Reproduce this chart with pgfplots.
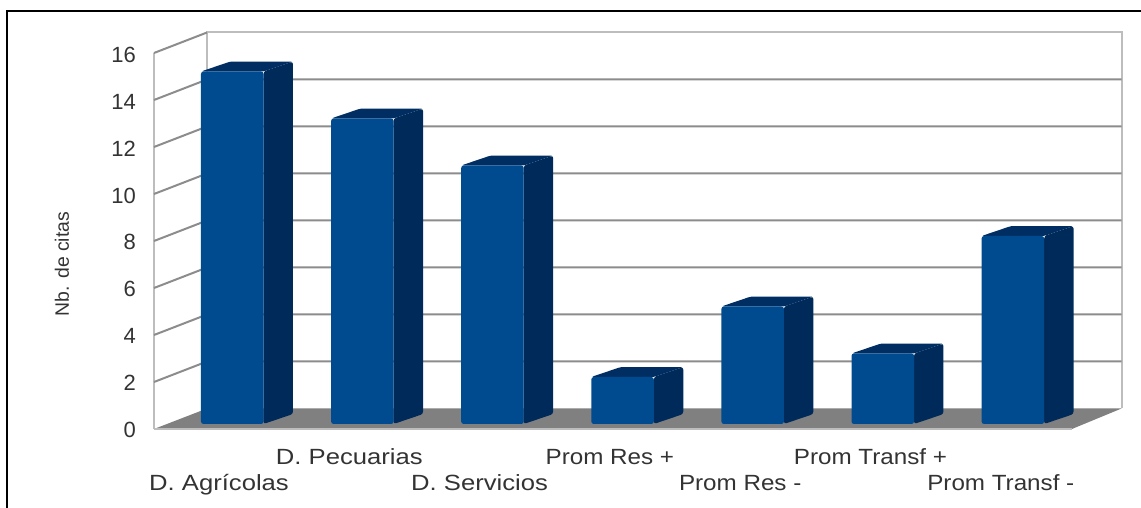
\documentclass[border=0pt]{standalone}
\usepackage{pgfplots}
\pgfplotsset{compat=1.18}
\usepackage{fontspec}
\setmainfont{Liberation Sans}
\newfontfamily\widefont[FakeStretch=1.165]{Liberation Sans}
\newfontfamily\midfont[FakeStretch=1.10]{Liberation Sans}
\definecolor{barfront}{HTML}{004A8F}
\definecolor{barside}{HTML}{002A59}
\definecolor{bartop}{HTML}{002E62}
\definecolor{floorgray}{HTML}{808080}
\definecolor{gridgray}{HTML}{8C8C8C}
\definecolor{wallgray}{HTML}{BDBDBD}
\definecolor{labelgray}{HTML}{333333}

% One 3D bar: category index, value. Depth runs 0.244 to 0.73 on the floor.
\newcommand{\Bar}[2]{%
  \pgfmathsetmacro{\xl}{#1*0.9985-0.2375}%
  \pgfmathsetmacro{\xr}{#1*0.9985+0.2425}%
  \pgfmathsetmacro{\xbl}{#1*0.9985-0.2095}%
  \pgfmathsetmacro{\xbr}{#1*0.9985+0.2705}%
  \addplot3[fill=bartop,draw=none,rounded corners=2.5pt] coordinates {(\xl,0.244,#2)(\xbl,0.73,#2)(\xbr,0.73,#2)(\xr,0.244,#2)} -- cycle;
  \addplot3[fill=barside,draw=none,rounded corners=2.5pt] coordinates {(\xr,0.244,0)(\xbr,0.73,0)(\xbr,0.73,#2)(\xr,0.244,#2)} -- cycle;
  \addplot3[fill=barfront,draw=none,rounded corners=2.5pt] coordinates {(\xl,0.244,0)(\xr,0.244,0)(\xr,0.244,#2)(\xl,0.244,#2)} -- cycle;
}
% One wall rule: from the front of the left wall to the back, then along the back wall.
\newcommand{\Rule}[2][gridgray]{%
  \addplot3[draw=#1,line width=2pt] coordinates {(-0.4988,0,#2)(-0.4988,1,#2)(6.52,1,#2)};
}

\begin{document}
\begin{tikzpicture}[x=1pt,y=1pt]
\path[use as bounding box] (0,0) rectangle (1141,508);
\begin{axis}[
  at={(219pt,79pt)},anchor=origin,
  x={(130.3pt,0pt)},y={(53pt,20.5pt)},z={(0pt,23.5pt)},
  xmin=-0.4988,xmax=6.546,ymin=0,ymax=1,zmin=0,zmax=16,
  clip=false,
  axis line style={draw=none},
  major tick style={draw=none},minor tick style={draw=none},
  ytick=\empty,
  ztick={0,2,...,16},
  zticklabel pos=left,
  xtick={0,...,6},
  xticklabel pos=left,
  xticklabels={
    D. Agr\'{\i}colas,
    \raisebox{26pt}{D. Pecuarias},
    D. Servicios,
    \raisebox{26pt}{\midfont Prom Res +},
    {\midfont Prom Res -},
    \raisebox{26pt}{\midfont Prom Transf +},
    {\midfont Prom Transf -}},
  /pgf/number format/assume math mode=true,
  xticklabel style={font=\fontsize{22}{24}\widefont,text=labelgray,anchor=base,inner sep=0pt,yshift=-62pt},
  zticklabel style={font=\fontsize{22}{24}\selectfont,text=labelgray,inner sep=0pt,xshift=-18pt},
]
% floor and walls
\addplot3[fill=floorgray,draw=none] coordinates {(-0.4988,0,0)(6.546,0,0)(6.52,1,0)(-0.4988,1,0)} -- cycle;
\addplot3[draw=wallgray,line width=2pt] coordinates {(-0.4988,0,0)(6.546,0,0)};
\addplot3[draw=wallgray,line width=2pt] coordinates {(-0.4988,0,0)(-0.4988,0,16)};
\addplot3[draw=wallgray,line width=2pt] coordinates {(-0.4988,1,0)(-0.4988,1,16)(6.52,1,16)(6.52,1,0)};
\Rule{2}\Rule{4}\Rule{6}\Rule{8}\Rule{10}\Rule{12}\Rule{14}
\addplot3[draw=gridgray,line width=2pt] coordinates {(-0.4988,0,16)(-0.4988,1,16)};
% bars
\Bar{0}{15}
\Bar{1}{13}
\Bar{2}{11}
\Bar{3}{2}
\Bar{4}{5}
\Bar{5}{3}
\Bar{6}{8}
\end{axis}
\node[rotate=90,font=\fontsize{19.4}{22}\selectfont,text=labelgray] at (62,244) {Nb. de citas};
\draw[black,line width=2pt] (7,0) -- (7,497) -- (1141,497);
\end{tikzpicture}
\end{document}
